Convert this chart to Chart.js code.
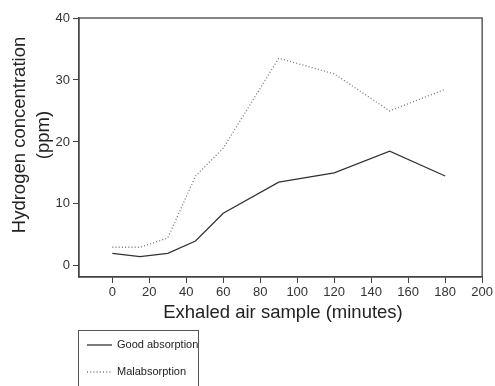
<!DOCTYPE html>
<html>
<head>
<meta charset="utf-8">
<script src="https://cdn.jsdelivr.net/npm/chart.js@4.4.0/dist/chart.umd.min.js"></script>
<style>
  html, body { margin: 0; padding: 0; background: #fff; }
  #wrap { position: relative; width: 495px; height: 386px; }
</style>
</head>
<body>
<div id="wrap"><canvas id="chart" width="495" height="386"></canvas></div>
<script>
// sample times (minutes)
var minutes = [0, 15, 30, 45, 60, 90, 120, 150, 180];
// hydrogen concentration (ppm)
var goodAbsorption = [2, 1.5, 2, 4, 8.5, 13.5, 15, 18.5, 14.5];
var malabsorption = [3, 3, 4.5, 14.5, 19, 33.5, 31, 25, 28.5];
var xTicks = [0, 20, 40, 60, 80, 100, 120, 140, 160, 180, 200];
var yTicks = [0, 10, 20, 30, 40];

var FONT = '"Liberation Sans", Arial, sans-serif';

function toPoints(xs, ys) {
    return xs.map(function (x, i) { return { x: x, y: ys[i] }; });
}

// box round the plot + axis titles + legend
var extras = {
    id: 'extras',
    afterDraw: function (chart) {
        var ctx = chart.ctx;
        var a = chart.chartArea;
        ctx.save();
        ctx.strokeStyle = '#444';
        ctx.lineWidth = 1.3;
        ctx.strokeRect(a.left, a.top, a.right - a.left, a.bottom - a.top);

        ctx.fillStyle = '#222';
        ctx.font = '18.5px ' + FONT;
        ctx.textAlign = 'center';
        ctx.textBaseline = 'middle';
        ctx.fillText('Exhaled air sample (minutes)', 283, 313);

        ctx.save();
        ctx.translate(20, 135);
        ctx.rotate(-Math.PI / 2);
        ctx.fillText('Hydrogen concentration', 0, 0);
        ctx.fillText('(ppm)', 0, 24);
        ctx.restore();

        // legend
        ctx.strokeStyle = '#555';
        ctx.lineWidth = 1;
        ctx.strokeRect(78.5, 330.5, 120, 70);
        var rows = [345, 372];
        chart.data.datasets.forEach(function (ds, i) {
            ctx.strokeStyle = ds.borderColor;
            ctx.lineWidth = ds.borderWidth;
            ctx.setLineDash(ds.borderDash || []);
            ctx.beginPath();
            ctx.moveTo(87, rows[i]);
            ctx.lineTo(112, rows[i]);
            ctx.stroke();
            ctx.setLineDash([]);
            ctx.fillStyle = '#222';
            ctx.font = '11px ' + FONT;
            ctx.textAlign = 'left';
            ctx.fillText(ds.label, 117, rows[i]);
        });
        ctx.restore();
    }
};

var ctx = document.getElementById('chart').getContext('2d');
new Chart(ctx, {
    type: 'line',
    data: {
        datasets: [
            {
                label: 'Good absorption',
                data: toPoints(minutes, goodAbsorption),
                borderColor: '#333',
                borderWidth: 1.3,
                pointRadius: 0,
                tension: 0
            },
            {
                label: 'Malabsorption',
                data: toPoints(minutes, malabsorption),
                borderColor: '#777',
                borderWidth: 1.3,
                borderDash: [1, 2.2],
                pointRadius: 0,
                tension: 0
            }
        ]
    },
    options: {
        responsive: false,
        animation: false,
        layout: { padding: { left: 0, right: 11, top: 18, bottom: 0 } },
        plugins: { legend: { display: false }, tooltip: { enabled: false } },
        scales: {
            x: {
                type: 'linear',
                min: -18,
                max: 200,
                afterBuildTicks: function (s) {
                    s.ticks = xTicks.map(function (v) { return { value: v }; });
                },
                afterFit: function (s) { s.height = 109; },
                grid: { drawOnChartArea: false, tickLength: 6, color: '#444', lineWidth: 1 },
                border: { color: '#444', width: 1.3 },
                ticks: { color: '#333', font: { family: FONT, size: 13 }, padding: 2, maxRotation: 0, autoSkip: false }
            },
            y: {
                min: -1.8,
                max: 40,
                afterBuildTicks: function (s) {
                    s.ticks = yTicks.map(function (v) { return { value: v }; });
                },
                afterFit: function (s) { s.width = 79; },
                grid: { drawOnChartArea: false, tickLength: 6, color: '#444', lineWidth: 1 },
                border: { color: '#444', width: 1.3 },
                ticks: { color: '#333', font: { family: FONT, size: 13 }, padding: 3 }
            }
        }
    },
    plugins: [extras]
});
</script>
</body>
</html>
